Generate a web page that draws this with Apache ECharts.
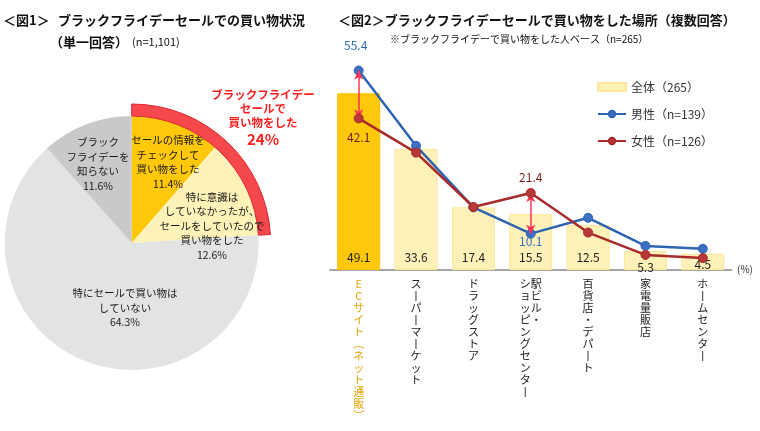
<!DOCTYPE html>
<html><head><meta charset="utf-8">
<script src="https://cdn.jsdelivr.net/npm/echarts@6/dist/echarts.min.js"></script>
<style>html,body{margin:0;padding:0;background:#fff}#c{width:760px;height:431px}</style>
</head><body><div id="c"></div>
<script>
// ---- Figure 1 data (pie) ----
const pieNames = ['セールの情報を\nチェックして\n買い物をした', '特に意識は\nしていなかったが、\nセールをしていたので\n買い物をした', '特にセールで買い物は\nしていない', 'ブラック\nフライデーを\n知らない'];
const pieValues = [11.4, 12.6, 64.3, 11.6];
const pieColors = ['#FFC80A', '#FFF2B9', '#E3E3E3', '#C9C9C9'];
const boughtLabel = 'ブラックフライデー\nセールで\n買い物をした';

// ---- Figure 2 data (bar + lines) ----
const categories = ['ECサイト（ネット通販）', 'スーパーマーケット', 'ドラッグストア', '駅ビル・\nショッピングセンター', '百貨店・デパート', '家電量販店', 'ホームセンター'];
const totalValues = [49.1, 33.6, 17.4, 15.5, 12.5, 5.3, 4.5];
const maleValues = [55.4, 34.5, 17.4, 10.1, 14.5, 6.7, 5.9];
const femaleValues = [42.1, 32.6, 17.5, 21.4, 10.4, 4.2, 3.3];
const seriesNames = ['全体（265）', '男性（n=139）', '女性（n=126）'];

const FONT = "'Noto Sans CJK JP', 'Noto Sans', sans-serif";
const chart = echarts.init(document.getElementById('c'));

const boughtTotal = (pieValues[0] + pieValues[1]).toFixed(0);

function vert(s) {
  const conv = { 'ー': '丨', '（': '︵', '）': '︶' };
  const cols = s.split('\n').reverse();
  const n = Math.max(...cols.map(c => c.length));
  const rows = [];
  for (let i = 0; i < n; i++) {
    rows.push(cols.map(c => c[i] ? (conv[c[i]] || c[i]) : (cols.length > 1 ? '　' : '')).join(''));
  }
  return rows;
}

const pieLabelPos = [[168, 162], [212, 226], [125, 308], [98, 164]];

const graphics = [
  { type: 'text', x: 3, y: 20, style: { text: '＜図1＞', font: 'bold 13px ' + FONT, fill: '#111', textVerticalAlign: 'middle' } },
  { type: 'text', x: 58, y: 20, style: { text: 'ブラックフライデーセールでの買い物状況', font: 'bold 13px ' + FONT, fill: '#111', textVerticalAlign: 'middle' } },
  { type: 'text', x: 50, y: 42, style: { text: '（単一回答）', font: 'bold 13px ' + FONT, fill: '#111', textVerticalAlign: 'middle' } },
  { type: 'text', x: 132, y: 42, style: { text: '(n=1,101)', font: '11px ' + FONT, fill: '#111', textVerticalAlign: 'middle' } },
  { type: 'text', x: 338, y: 20, style: { text: '＜図2＞ブラックフライデーセールで買い物をした場所（複数回答）', font: 'bold 13px ' + FONT, fill: '#111', textVerticalAlign: 'middle' } },
  { type: 'text', x: 390, y: 39, style: { text: '※ブラックフライデーで買い物をした人ベース（n=265）', font: '10px ' + FONT, fill: '#111', textVerticalAlign: 'middle' } },
  { type: 'text', x: 737, y: 269, style: { text: '(%)', font: '10px ' + FONT, fill: '#333', textVerticalAlign: 'middle' } },
  { type: 'text', x: 263, y: 118, style: {
      text: boughtLabel.split('\n').map(l => '{a|' + l + '}').join('\n') + '\n{b|' + boughtTotal + '%}',
      textAlign: 'center', textVerticalAlign: 'middle',
      rich: { a: { font: 'bold 11.5px ' + FONT, fill: '#FF1F1F', lineHeight: 14 }, b: { font: 'bold 15px ' + FONT, fill: '#FF1F1F', lineHeight: 19 } }
  } }
];
pieNames.forEach((n, i) => {
  graphics.push({ type: 'text', x: pieLabelPos[i][0], y: pieLabelPos[i][1], z: 10, style: {
    text: n + '\n' + pieValues[i].toFixed(1) + '%', font: '10.5px ' + FONT, fill: '#1a1a1a',
    textAlign: 'center', textVerticalAlign: 'middle', lineHeight: 14.5 } });
});

const option = {
  animation: false,
  textStyle: { fontFamily: FONT },
  graphic: graphics,
  legend: {
    orient: 'vertical', left: 592, top: 75, itemWidth: 28, itemHeight: 8, itemGap: 13,
    textStyle: { fontSize: 12, color: '#333', lineHeight: 14, fontFamily: FONT },
    data: [{ name: seriesNames[0], icon: 'rect' }, seriesNames[1], seriesNames[2]]
  },
  grid: { left: 330, right: 28.5, top: 54, bottom: 161 },
  xAxis: {
    type: 'category', data: categories, boundaryGap: true,
    axisLine: { lineStyle: { color: '#A6A6A6', width: 2 } },
    axisTick: { show: false },
    axisLabel: {
      interval: 0, margin: 8, fontSize: 11, lineHeight: 12, color: '#222', verticalAlign: 'top', align: 'center',
      formatter: (v, idx) => {
        const rows = vert(v);
        const st = idx === 0 ? 'ec' : 'n';
        return rows.map(r => '{' + st + '|' + r + '}').join('\n');
      },
      rich: {
        ec: { color: '#E5A50A', fontSize: 11, lineHeight: 12, fontFamily: FONT },
        n: { color: '#222', fontSize: 11, lineHeight: 12, fontFamily: FONT }
      }
    }
  },
  yAxis: { type: 'value', min: 0, max: 60, show: false, splitLine: { show: false } },
  series: [
    {
      type: 'pie', center: [131.7, 243], radius: [0, 127], startAngle: 90, clockwise: true,
      label: { show: false }, labelLine: { show: false }, silent: true,
      data: pieValues.map((v, i) => ({ value: v, name: 'p' + i, itemStyle: { color: pieColors[i] } })),
      legendHoverLink: false
    },
    {
      type: 'pie', center: [131.7, 243], radius: [127, 139], startAngle: 90, clockwise: true,
      label: { show: false }, labelLine: { show: false }, silent: true,
      data: [
        { value: pieValues[0] + pieValues[1], name: 'r0', itemStyle: { color: '#F5484D', borderColor: '#E0252B', borderWidth: 1 } },
        { value: pieValues[2] + pieValues[3], name: 'r1', itemStyle: { color: 'transparent' } }
      ]
    },
    {
      name: seriesNames[0], type: 'bar', barWidth: 43, z: 2,
      itemStyle: { color: '#FFF1B8', borderColor: '#FFE699', borderWidth: 1 },
      label: { show: true, position: 'insideBottom', distance: 7, fontSize: 12, color: '#222', fontFamily: FONT },
      data: totalValues.map((v, i) => {
        const d = { value: v };
        if (i === 0) d.itemStyle = { color: '#FFC80A', borderColor: '#FFC000' };
        if (i >= 5) d.label = { offset: [0, i === 5 ? 10 : 7] };
        return d;
      })
    },
    {
      name: seriesNames[1], type: 'line', z: 4,
      symbol: 'circle', symbolSize: 9,
      lineStyle: { color: '#2F64B3', width: 2.5 },
      itemStyle: { color: '#3A6FC2', borderColor: '#2F64B3', borderWidth: 1 },
      label: { show: false },
      data: maleValues.map((v, i) => {
        const d = { value: v };
        if (i === 0) d.label = { show: true, position: 'inside', offset: [-3, -25], color: '#2F6FC0', fontSize: 12, fontFamily: FONT };
        if (i === 3) d.label = { show: true, position: 'inside', offset: [0, 8], color: '#2F6FC0', fontSize: 12, fontFamily: FONT };
        return d;
      })
    },
    {
      name: seriesNames[2], type: 'line', z: 5,
      symbol: 'circle', symbolSize: 9,
      lineStyle: { color: '#A82A2A', width: 2.5 },
      itemStyle: { color: '#B83838', borderColor: '#A82A2A', borderWidth: 1 },
      label: { show: false },
      data: femaleValues.map((v, i) => {
        const d = { value: v };
        if (i === 0) d.label = { show: true, position: 'inside', offset: [0, 19], color: '#7A1C1C', fontSize: 12, fontFamily: FONT };
        if (i === 3) d.label = { show: true, position: 'inside', offset: [0, -16], color: '#7A1C1C', fontSize: 12, fontFamily: FONT };
        return d;
      }),
      markLine: {
        silent: true, symbol: ['arrow', 'arrow'], symbolSize: [7, 9],
        label: { show: false },
        lineStyle: { color: '#FF3355', width: 1.5, type: 'solid' },
        emphasis: { disabled: true },
        data: [
          [{ coord: [0, maleValues[0]] }, { coord: [0, femaleValues[0]] }],
          [{ coord: [3, femaleValues[3]] }, { coord: [3, maleValues[3]] }]
        ]
      }
    }
  ]
};
chart.setOption(option);
</script></body></html>
